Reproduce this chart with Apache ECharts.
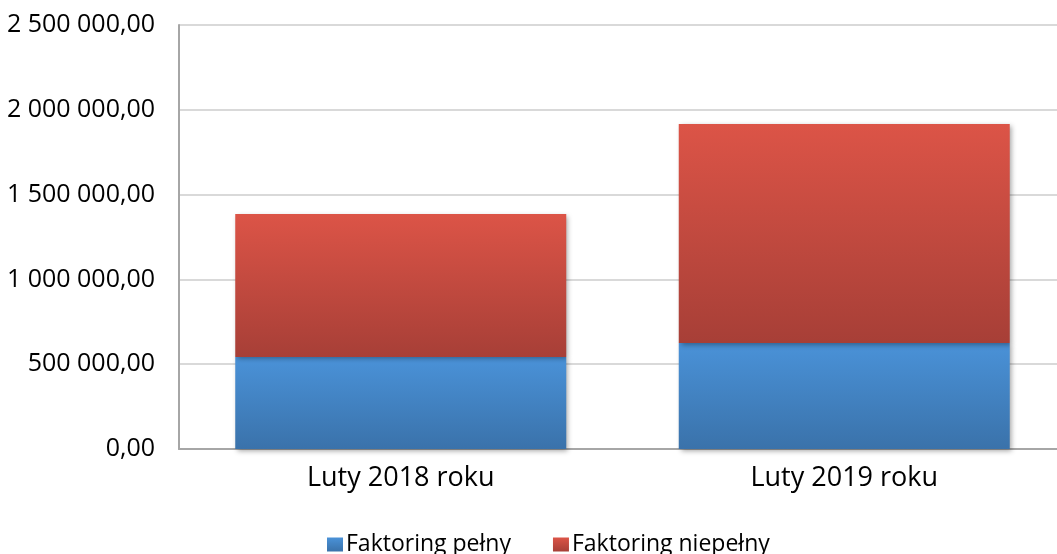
<!DOCTYPE html>
<html>
<head>
<meta charset="utf-8">
<script src="https://cdn.jsdelivr.net/npm/echarts@6/dist/echarts.min.js"></script>
<style>
html,body{margin:0;padding:0;background:#fff;}
#chart{width:1057px;height:554px;}
</style>
</head>
<body>
<div id="chart"></div>
<script>
const categories = ['Luty 2018 roku', 'Luty 2019 roku'];
const seriesNames = ['Faktoring pełny', 'Faktoring niepełny'];
const faktoringPelny = [542000, 625000];
const faktoringNiepelny = [843000, 1291000];

function fmt(v) {
  const s = Math.round(v).toString().replace(/\B(?=(\d{3})+(?!\d))/g, ' ');
  return s + ',00';
}
const FONT = 'Open Sans';
const chart = echarts.init(document.getElementById('chart'));
const shadow = {shadowColor: 'rgba(0,0,0,0.35)', shadowBlur: 5, shadowOffsetX: 2, shadowOffsetY: 2};
chart.setOption({
  animation: false,
  backgroundColor: '#ffffff',
  textStyle: {fontFamily: FONT},
  grid: {left: 179, top: 25, right: -9, bottom: 105, outerBoundsMode: 'none', containLabel: false},
  legend: {
    top: 528, left: 322,
    itemWidth: 16, itemHeight: 14, itemGap: 42,
    icon: 'rect',
    textStyle: {fontFamily: FONT, fontSize: 23, color: '#000', padding: [0, 0, 0, -2]},
    data: seriesNames
  },
  xAxis: {
    type: 'category',
    data: categories,
    axisTick: {show: false},
    axisLine: {lineStyle: {color: '#a6a6a6', width: 2}},
    axisLabel: {fontFamily: FONT, fontSize: 27, color: '#000', margin: 16}
  },
  yAxis: {
    type: 'value',
    min: 0, max: 2500000, interval: 500000,
    axisLine: {show: true, lineStyle: {color: '#a6a6a6', width: 2}},
    axisTick: {show: false},
    splitLine: {lineStyle: {color: '#d9d9d9', width: 2}},
    axisLabel: {fontFamily: FONT, fontSize: 25, color: '#000', margin: 24, formatter: fmt}
  },
  series: [
    {
      name: seriesNames[0], type: 'bar', stack: 'a', barWidth: 331,
      data: faktoringPelny,
      itemStyle: Object.assign({color: new echarts.graphic.LinearGradient(0,0,0,1,[{offset:0,color:'#4a92d8'},{offset:1,color:'#3a72aa'}])}, shadow)
    },
    {
      name: seriesNames[1], type: 'bar', stack: 'a', barWidth: 331,
      data: faktoringNiepelny,
      itemStyle: Object.assign({color: new echarts.graphic.LinearGradient(0,0,0,1,[{offset:0,color:'#dc5447'},{offset:1,color:'#a73f37'}])}, shadow)
    }
  ]
});
</script>
</body>
</html>
